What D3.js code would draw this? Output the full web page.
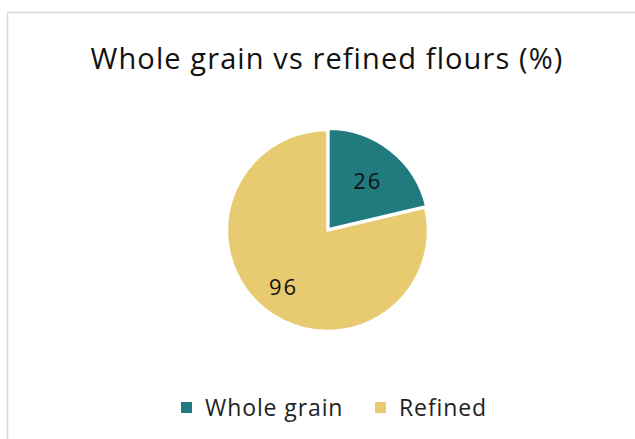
<!DOCTYPE html>
<head>
<meta charset="utf-8">
<script src="https://d3js.org/d3.v7.min.js"></script>
<style>
  body { margin: 0; background: #fff; }
  text { font-family: "Open Sans", Lato, sans-serif; }
</style>
</head>
<body>
<div id="chart"></div>
<script>

// chart data
var categories = ["Whole grain", "Refined"];
var values = [26, 96];
var colors = ["#217a7e", "#e8cb70"];

var width = 635,
    height = 439;

var svg = d3.select("#chart")
    .append("svg")
    .attr("width", width)
    .attr("height", height);

// light frame around the chart area
svg.append("rect")
    .attr("x", 7.5)
    .attr("y", 12.5)
    .attr("width", width)
    .attr("height", height)
    .attr("fill", "none")
    .attr("stroke", "#d9d9d9")
    .attr("stroke-width", 1.5);

// title
svg.append("text")
    .attr("x", 327)
    .attr("y", 69)
    .attr("text-anchor", "middle")
    .attr("font-size", 29)
    .attr("letter-spacing", 1.1)
    .attr("fill", "#111")
    .text("Whole grain vs refined flours (%)");

var cx = 327.5, cy = 230.5, radius = 100.5;

var pie = d3.pie().sort(null).value(d => d.value);
var data = categories.map((c, i) => ({ name: c, value: values[i], color: colors[i] }));
var arcs = pie(data);

var arc = d3.arc().innerRadius(0).outerRadius(radius);

// label distance from centre, as a share of the radius
var labelPos = [0.63, 0.72];
function labelCentroid(d, i) {
    var r = radius * labelPos[i];
    return d3.arc().innerRadius(r).outerRadius(r).centroid(d);
}

var g = svg.append("g").attr("transform", "translate(" + cx + "," + cy + ")");

// first slice is pulled out a little
function offset(d, i) {
    var k = i === 0 ? 1.5 : 0;
    var a = (d.startAngle + d.endAngle) / 2;
    return "translate(" + (Math.sin(a) * k) + "," + (-Math.cos(a) * k) + ")";
}

g.selectAll("path")
    .data(arcs)
    .enter().append("path")
    .attr("d", arc)
    .attr("transform", offset)
    .attr("fill", d => d.data.color)
    .attr("stroke", "#fff")
    .attr("stroke-width", 2.5)
    .attr("stroke-linejoin", "round");

g.selectAll(".lbl")
    .data(arcs)
    .enter().append("text")
    .attr("class", "lbl")
    .attr("transform", (d, i) => "translate(" + labelCentroid(d, i) + ")")
    .attr("text-anchor", "middle")
    .attr("dx", 1)
    .attr("dy", "0.35em")
    .attr("font-size", 22)
    .attr("letter-spacing", 2)
    .attr("fill", "#111")
    .text(d => d.data.value);

// legend
var legendX = [181, 375];
var legend = svg.selectAll(".legend")
    .data(data)
    .enter().append("g")
    .attr("class", "legend")
    .attr("transform", (d, i) => "translate(" + legendX[i] + ",402)");

legend.append("rect")
    .attr("width", 11)
    .attr("height", 11)
    .attr("fill", d => d.color);

legend.append("text")
    .attr("x", 24)
    .attr("y", 14)
    .attr("font-size", 23)
    .attr("letter-spacing", 0.9)
    .attr("fill", "#222")
    .text(d => d.name);

</script>
</body>
